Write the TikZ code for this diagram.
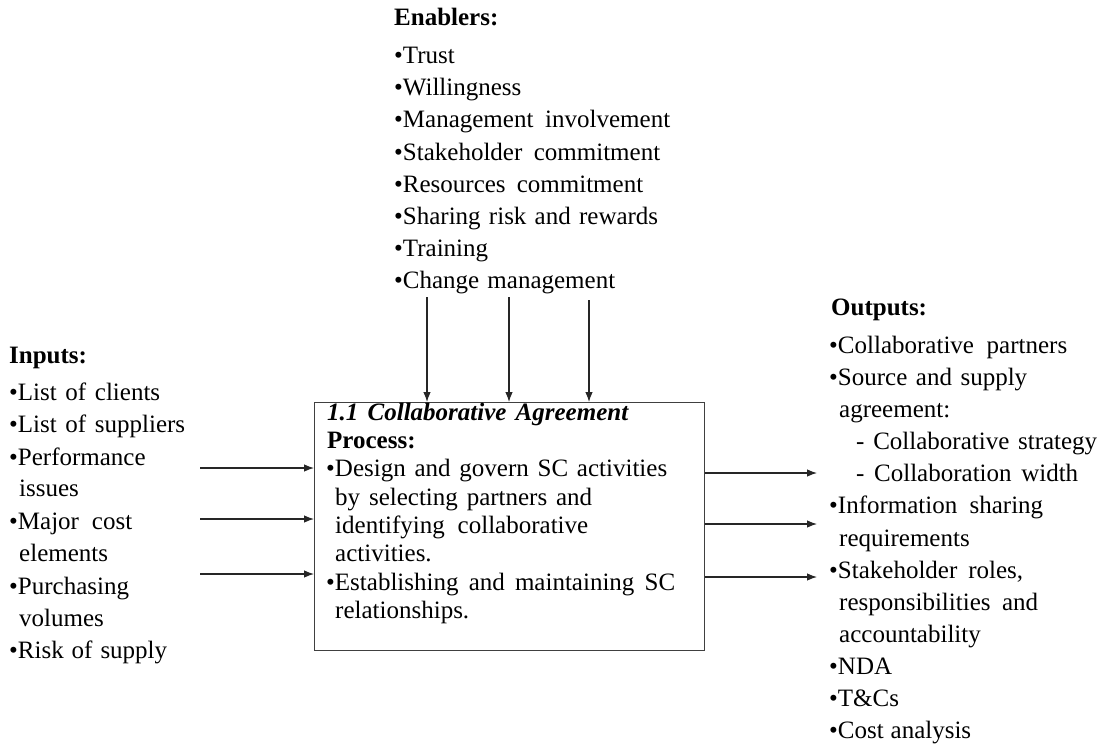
\documentclass[tikz,border=0pt]{standalone}
\usepackage{fontspec}
\setmainfont{Liberation Serif}
\usetikzlibrary{arrows.meta}
% stretch the inter-word spaces of a line to a given width (in pt)
\newcommand\fitto[2]{\makebox[#1pt][s]{#2}}
\begin{document}
\begin{tikzpicture}[x=1pt,y=-1pt,
  txt/.style={anchor=base west, inner sep=0pt, font=\fontsize{25}{29}\selectfont},
  head/.style={txt, font=\fontsize{25}{29}\selectfont\bfseries},
  flow/.style={draw=black!85, line width=1.1pt, -{Latex[length=10pt,width=7.5pt]}},
  procbox/.style={draw=black!75, line width=1.4pt, inner sep=0pt, anchor=north west,
                  minimum width=390pt, minimum height=248pt},
]
\useasboundingbox (0,0) rectangle (1100,744);

% ---- enablers (top) ----
\node[head] (enh) at (394,25)    {Enablers:};
\node[txt]  (en1) at (394,63.3)  {•Trust};
\node[txt]  (en2) at (394,95.7)  {•Willingness};
\node[txt]  (en3) at (394,127.7) {\fitto{276}{•Management involvement}};
\node[txt]  (en4) at (394,160)   {\fitto{266}{•Stakeholder commitment}};
\node[txt]  (en5) at (394,192)   {\fitto{249}{•Resources commitment}};
\node[txt]  (en6) at (394,224)   {\fitto{264}{•Sharing risk and rewards}};
\node[txt]  (en7) at (394,256)   {•Training};
\node[txt]  (en8) at (394,288)   {\fitto{221}{•Change management}};

% ---- inputs (left) ----
\node[head] (inh) at (9,363.3)   {Inputs:};
\node[txt]  (in1) at (9,400.7)   {\fitto{151}{•List of clients}};
\node[txt]  (in2) at (9,432.7)   {\fitto{176}{•List of suppliers}};
\node[txt]  (in3) at (9,465)     {•Performance};
\node[txt]  (in3b) at (19,496.7) {issues};
\node[txt]  (in4) at (9,529.3)   {\fitto{123}{•Major cost}};
\node[txt]  (in4b) at (19,561)   {elements};
\node[txt]  (in5) at (9,594)     {•Purchasing};
\node[txt]  (in5b) at (19,626)   {volumes};
\node[txt]  (in6) at (9,658.3)   {\fitto{158}{•Risk of supply}};

% ---- outputs (right) ----
\node[head] (outh) at (831,315)   {Outputs:};
\node[txt]  (out1) at (829,353.3) {\fitto{238}{•Collaborative partners}};
\node[txt]  (out2) at (829,385.4) {\fitto{198}{•Source and supply}};
\node[txt]  (out2b) at (839,417.5) {agreement:};
\node[txt]  (out2c) at (856,449.6) {\fitto{241}{- Collaborative strategy}};
\node[txt]  (out2d) at (856,481.7) {\fitto{222}{- Collaboration width}};
\node[txt]  (out3) at (829,513.8) {\fitto{214}{•Information sharing}};
\node[txt]  (out3b) at (839,546)  {requirements};
\node[txt]  (out4) at (829,578)   {\fitto{194}{•Stakeholder roles,}};
\node[txt]  (out4b) at (839,610)  {\fitto{199}{responsibilities and}};
\node[txt]  (out4c) at (839,642)  {accountability};
\node[txt]  (out5) at (829,674.3) {•NDA};
\node[txt]  (out6) at (829,706.5) {•T\&Cs};
\node[txt]  (out7) at (829,738.5) {\fitto{142}{•Cost analysis}};

% ---- process box ----
\node[procbox] (proc) at (314,402) {};
\node[txt] (p0) at (327,420.7) {\fitto{301}{\bfseries\itshape 1.1 Collaborative Agreement}};
\node[head] (p1) at (327,448.3) {Process:};
\node[txt] (p2) at (326,476.7) {\fitto{341}{•Design and govern SC activities}};
\node[txt] (p3) at (335,505)   {\fitto{257}{by selecting partners and}};
\node[txt] (p4) at (335,533.3) {\fitto{253}{identifying collaborative}};
\node[txt] (p5) at (335,561.7) {activities.};
\node[txt] (p6) at (326,590)   {\fitto{349}{•Establishing and maintaining SC}};
\node[txt] (p7) at (335,618.3) {relationships.};

% ---- connector ends ----
\coordinate (t1) at (427,297);
\coordinate (t2) at (509,297);
\coordinate (t3) at (589,300);
\coordinate (l1) at (200,468);
\coordinate (l2) at (200,519);
\coordinate (l3) at (200,574);
\coordinate (r1) at (817,473);
\coordinate (r2) at (817,524);
\coordinate (r3) at (817,577);

% enablers into the box
\draw[flow] (t1) -- (t1 |- proc.north);
\draw[flow] (t2) -- (t2 |- proc.north);
\draw[flow] (t3) -- (t3 |- proc.north);
% inputs into the box
\draw[flow] (l1) -- (l1 -| proc.west);
\draw[flow] (l2) -- (l2 -| proc.west);
\draw[flow] (l3) -- (l3 -| proc.west);
% outputs from the box
\draw[flow] (r1 -| proc.east) -- (r1);
\draw[flow] (r2 -| proc.east) -- (r2);
\draw[flow] (r3 -| proc.east) -- (r3);
\end{tikzpicture}
\end{document}
